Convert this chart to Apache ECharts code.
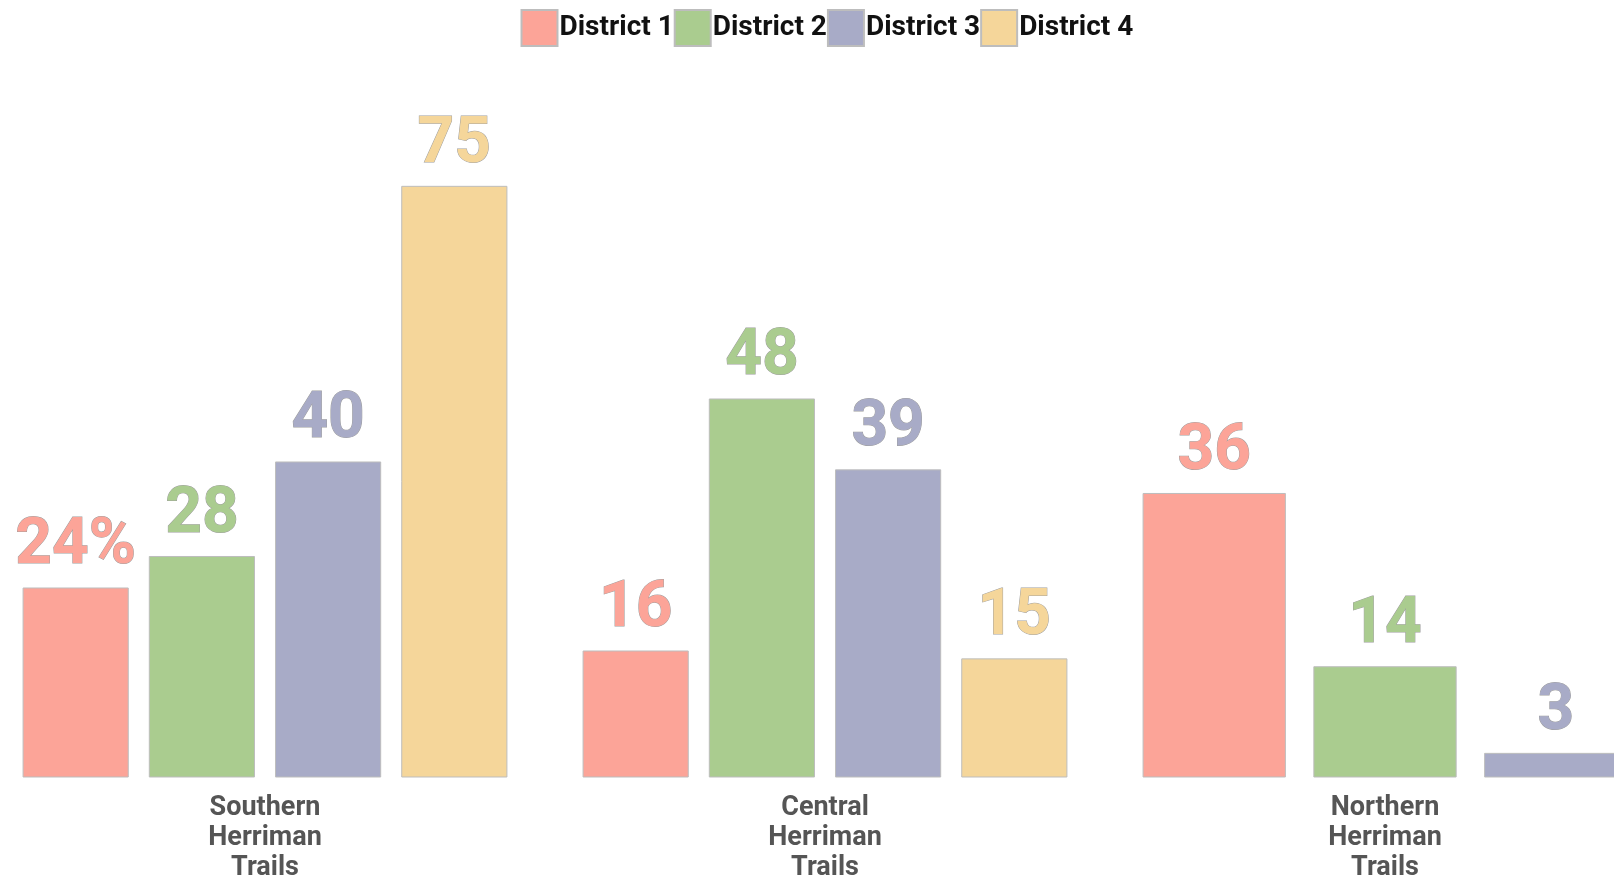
<!DOCTYPE html>
<html>
<head>
<meta charset="utf-8">
<script src="https://cdn.jsdelivr.net/npm/echarts@6/dist/echarts.min.js"></script>
<style>
  html, body { margin: 0; padding: 0; background: #fff; overflow: hidden; }
  #frame { width: 1614px; height: 878px; overflow: hidden; position: relative; }
  /* plot area runs slightly past both edges of the frame */
  #chart { position: absolute; left: -15.5px; top: 0; width: 1680px; height: 878px; }
</style>
</head>
<body>
<div id="frame"><div id="chart"></div></div>
<script>
// Trail areas on the x axis
const categories = ['Southern\nHerriman\nTrails', 'Central\nHerriman\nTrails', 'Northern\nHerriman\nTrails'];
// District names (legend order)
const districts = ['District 1', 'District 2', 'District 3', 'District 4'];
// Values per district across the three trail areas (null = no bar)
const district1 = [24, 16, 36];
const district2 = [28, 48, 14];
const district3 = [40, 39, 3];
const district4 = [75, 15, null];
const seriesValues = [district1, district2, district3, district4];
// Unit shown on the very first value label
const firstLabelUnit = '%';

const colors = ['#FCA498', '#AACC8F', '#A8ABC7', '#F5D69A'];
const FONT = 'Roboto, "Noto Sans", sans-serif';

// Bars in each area share the group width, so areas with fewer
// districts get wider bars.
function makeRender(sIdx) {
  return function (params, api) {
    const cat = api.value(0);
    const val = api.value(1);
    const present = [];
    seriesValues.forEach((arr, k) => { if (arr[cat] != null) present.push(k); });
    const n = present.length;
    const k = present.indexOf(sIdx);
    const band = api.size([1, 0])[0];
    const group = band * 0.864;
    const w = group / (1.2 * n - 0.2);
    const gap = 0.2 * w;
    const center = api.coord([cat, 0]);
    const top = api.coord([cat, val]);
    const x0 = center[0] - group / 2 + k * (w + gap);
    const label = (sIdx === 0 && cat === 0) ? val + firstLabelUnit : String(val);
    return {
      type: 'rect',
      shape: { x: x0, y: top[1], width: w, height: center[1] - top[1] },
      style: { fill: colors[sIdx], stroke: '#bdbdbd', lineWidth: 1 },
      textContent: {
        type: 'text',
        style: {
          text: label,
          fill: colors[sIdx],
          stroke: '#9e9e9e',
          lineWidth: 1,
          fontSize: 64,
          fontWeight: 'bold',
          fontFamily: FONT
        }
      },
      textConfig: { position: 'top', distance: 8 }
    };
  };
}

const series = districts.map((name, s) => ({
  name: name,
  type: 'custom',
  renderItem: makeRender(s),
  itemStyle: { color: colors[s], borderColor: '#bdbdbd', borderWidth: 1 },
  encode: { x: 0, y: 1 },
  clip: false,
  data: seriesValues[s]
    .map((v, i) => (v == null ? null : [i, v]))
    .filter(d => d !== null)
}));

const chart = echarts.init(document.getElementById('chart'), null, { renderer: 'canvas' });
chart.setOption({
  animation: false,
  backgroundColor: '#ffffff',
  legend: {
    data: districts,
    left: 535.5,
    top: 9,
    padding: 0,
    icon: 'rect',
    itemWidth: 36,
    itemHeight: 36,
    itemGap: 0,
    textStyle: {
      fontSize: 28, fontWeight: 'bold', color: '#111', fontFamily: FONT,
      padding: [0, 0, 0, -3]
    }
  },
  grid: {
    left: 0, right: 0, top: 68.2, bottom: 101,
    containLabel: false,
    outerBoundsMode: 'none'
  },
  xAxis: {
    type: 'category',
    data: categories,
    axisLine: { show: false },
    axisTick: { show: false },
    axisLabel: {
      margin: 16,
      fontSize: 27,
      fontWeight: 'bold',
      lineHeight: 30,
      color: '#555555',
      fontFamily: FONT,
      interval: 0
    }
  },
  yAxis: {
    type: 'value',
    min: 0,
    max: 90,
    show: false,
    splitLine: { show: false }
  },
  series: series
});
</script>
</body>
</html>
